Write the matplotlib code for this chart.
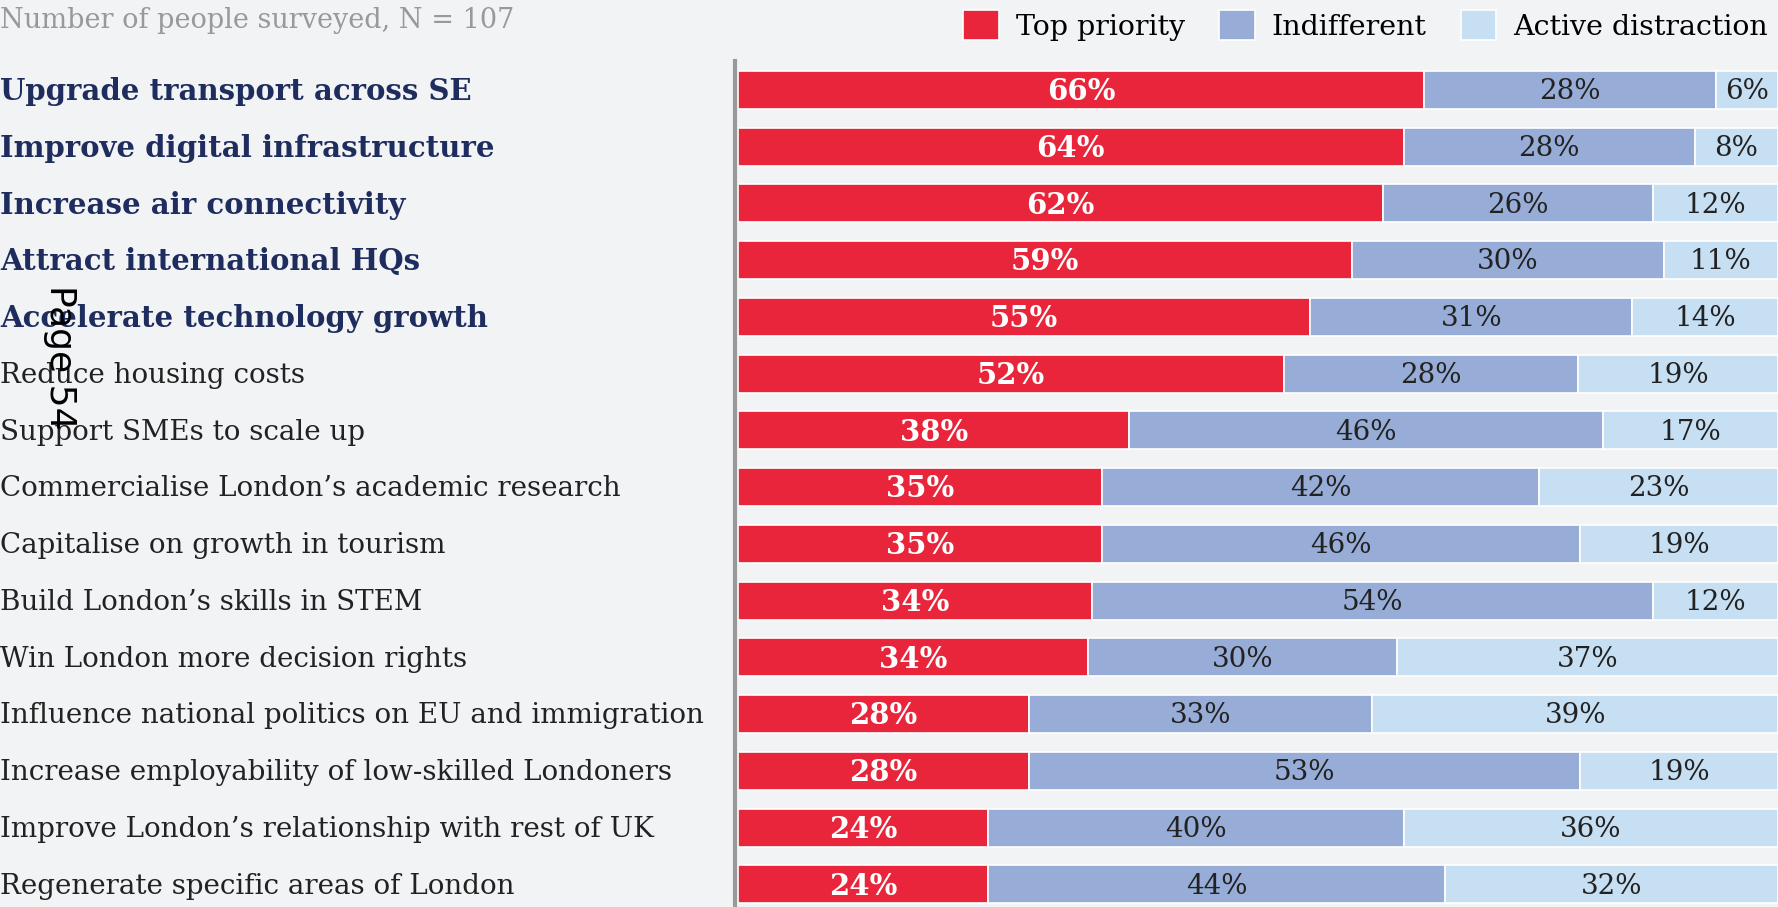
import numpy as np
import matplotlib.pyplot as plt
from matplotlib.patches import Patch

#%% data
categories = [
    'Upgrade transport across SE',
    'Improve digital infrastructure',
    'Increase air connectivity',
    'Attract international HQs',
    'Accelerate technology growth',
    'Reduce housing costs',
    'Support SMEs to scale up',
    'Commercialise London\u2019s academic research',
    'Capitalise on growth in tourism',
    'Build London\u2019s skills in STEM',
    'Win London more decision rights',
    'Influence national politics on EU and immigration',
    'Increase employability of low-skilled Londoners',
    'Improve London\u2019s relationship with rest of UK',
    'Regenerate specific areas of London',
]
top_priority = [66, 64, 62, 59, 55, 52, 38, 35, 35, 34, 34, 28, 28, 24, 24]
indifferent = [28, 28, 26, 30, 31, 28, 46, 42, 46, 54, 30, 33, 53, 40, 44]
distraction = [6, 8, 12, 11, 14, 19, 17, 23, 19, 12, 37, 39, 19, 36, 32]
n_bold = 5  # first five rows are highlighted

series_names = ['Top priority', 'Indifferent', 'Active distraction']
colors = ['#E8253A', '#97ACD7', '#C7DFF3']
label_colors = ['white', '#222222', '#222222']
label_weights = ['bold', 'normal', 'normal']
label_sizes = [21, 20, 20]

bg = '#F2F3F5'
serif = ['DejaVu Serif']

#%% plot
fig = plt.figure(figsize=(17.78, 9.07), dpi=100, facecolor=bg)
ax = fig.add_axes([738/1778, 0, 1 - 738/1778, (907-61)/907], facecolor=bg)

vals = np.array([top_priority, indifferent, distraction], dtype=float)
shares = vals / vals.sum(axis=0) * 100   # stretch each row to full width
y = np.arange(len(categories))

left = np.zeros(len(categories))
for k in range(3):
    bars = ax.barh(y, shares[k], left=left, height=0.67, color=colors[k],
                   edgecolor='white', linewidth=1.2)
    for i, b in enumerate(bars):
        ax.text(left[i] + shares[k][i]/2, y[i] + 0.03, f'{int(vals[k][i])}%',
                ha='center', va='center', fontsize=label_sizes[k], family=serif,
                color=label_colors[k], fontweight=label_weights[k])
    left += shares[k]

ax.set_xlim(0, 100)
ax.set_ylim(14.40, -0.511)
ax.set_xticks([])
ax.set_yticks([])
for s in ['top', 'right', 'bottom']:
    ax.spines[s].set_visible(False)
ax.spines['left'].set_color('#999999')
ax.spines['left'].set_linewidth(3)
ax.spines['left'].set_position(('outward', 2))

# category labels on the far left
trans = ax.get_yaxis_transform()
for i, cat in enumerate(categories):
    bold = i < n_bold
    ax.text(-738/(1778-738), y[i] + 0.03, cat, transform=trans,
            ha='left', va='center', fontsize=21 if bold else 20, family=serif,
            color='#1E2D5E' if bold else '#222222',
            fontweight='bold' if bold else 'normal')

fig.text(0.0, 1 - 20/907, 'Number of people surveyed, N = 107', ha='left', va='center',
         fontsize=19.5, family=serif, color='#999999')

handles = [Patch(facecolor=c, edgecolor='white', linewidth=1.2) for c in colors]
fig.legend(handles, series_names, loc='upper right', bbox_to_anchor=(1.0, 1.0),
           ncol=3, frameon=False, prop={'family': serif, 'size': 20.5},
           handlelength=1.25, handleheight=1.25, handletextpad=0.6,
           columnspacing=1.2, borderaxespad=0.25, borderpad=0.1)

fig.text(60/1778, 1 - 357/907, 'Page 54', rotation=-90, ha='center', va='center',
         fontsize=26, color='black')

fig.savefig('out.png', dpi=100, facecolor=bg)
